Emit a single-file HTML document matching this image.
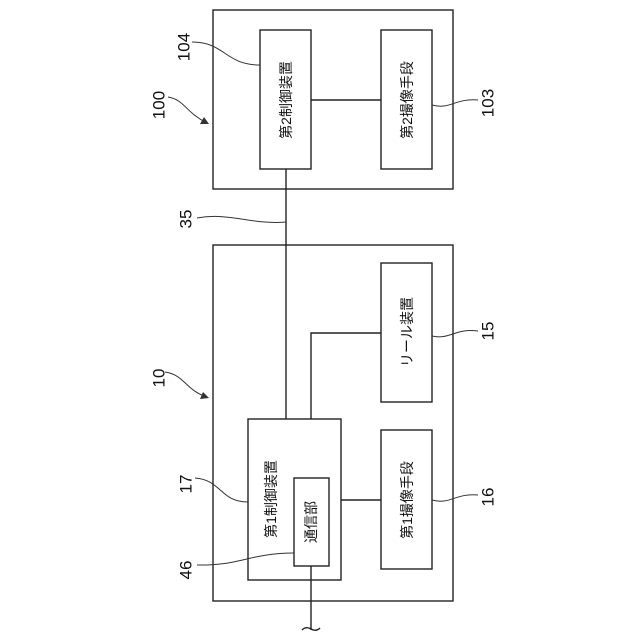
<!DOCTYPE html>
<html><head><meta charset="utf-8"><style>html,body{margin:0;padding:0;background:#fff}svg{display:block}</style></head>
<body>
<svg width="640" height="640" viewBox="0 0 640 640" xmlns="http://www.w3.org/2000/svg">
<g fill="none" stroke="#222" stroke-width="1.4">
<rect x="213" y="10" width="240" height="179"/>
<rect x="260" y="30" width="51" height="139"/>
<rect x="381" y="30" width="51" height="139"/>
<line x1="311" y1="100" x2="381" y2="100"/>
<line x1="286" y1="169" x2="286" y2="419"/>
<rect x="213" y="245" width="240" height="356"/>
<rect x="381" y="263" width="51" height="139"/>
<rect x="381" y="430" width="51" height="139"/>
<rect x="248" y="419" width="93" height="161"/>
<rect x="294" y="478" width="35" height="88"/>
<polyline points="311,419 311,333 381,333"/>
<line x1="341" y1="500" x2="381" y2="500"/>
<line x1="311" y1="566" x2="311" y2="630"/>
<path d="M302,630 Q306,626 311,629 Q316,632 320,628"/>
</g>
<g fill="none" stroke="#333" stroke-width="1">
<path d="M192,42 C225,42 225,65 260,65"/>
<path d="M168,97 C185,100 185,112 207,123"/>
<path d="M432,105 C450,110 455,98 478,100"/>
<path d="M197,218 C230,212 250,225 286,222"/>
<path d="M165,372 C185,375 185,390 207,397"/>
<path d="M432,336 C450,340 455,328 478,331"/>
<path d="M195,478 C222,480 220,502 248,502"/>
<path d="M432,500 C450,505 455,493 478,495"/>
<path d="M197,565 C240,566 250,553 294,553"/>
</g>
<polygon points="209,124 200,124 204,117" fill="#333"/>
<polygon points="209,398 200,399 203,392" fill="#333"/>
<g font-family="'Liberation Sans','Noto Sans CJK JP',sans-serif" fill="#111" text-anchor="middle" dominant-baseline="central">
<g font-size="14">
<text transform="translate(286,100) rotate(-90)">第2制御装置</text>
<text transform="translate(407,100) rotate(-90)">第2撮像手段</text>
<text transform="translate(407,332) rotate(-90)">リール装置</text>
<text transform="translate(407,500) rotate(-90)">第1撮像手段</text>
<text transform="translate(271,499) rotate(-90)">第1制御装置</text>
<text transform="translate(311,522) rotate(-90)">通信部</text>
</g>
<g font-size="17">
<text transform="translate(184,47) rotate(-90)">104</text>
<text transform="translate(159,105) rotate(-90)">100</text>
<text transform="translate(488,103) rotate(-90)">103</text>
<text transform="translate(186,219) rotate(-90)">35</text>
<text transform="translate(159,378) rotate(-90)">10</text>
<text transform="translate(488,331) rotate(-90)">15</text>
<text transform="translate(186,484) rotate(-90)">17</text>
<text transform="translate(488,497) rotate(-90)">16</text>
<text transform="translate(186,570) rotate(-90)">46</text>
</g>
</g>
</svg>
</body></html>
